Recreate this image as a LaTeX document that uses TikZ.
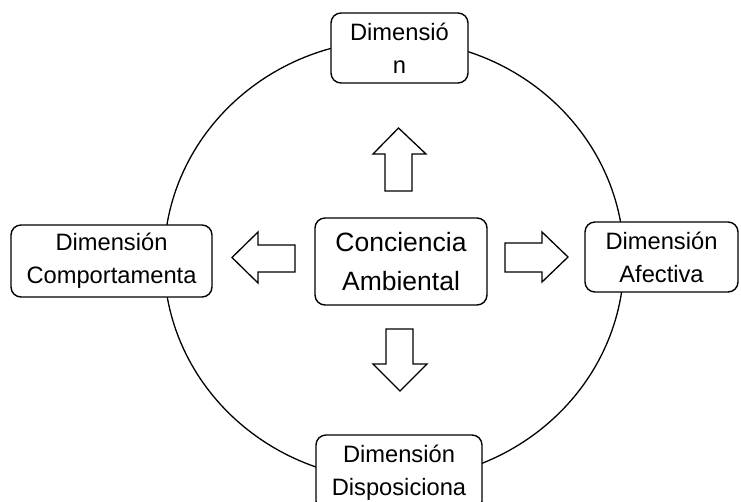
\documentclass[tikz,border=0pt]{standalone}
\usepackage{fontspec}
\setmainfont{Liberation Sans}
\begin{document}
\begin{tikzpicture}[x=1pt,y=-1pt,
  dimbox/.style={draw, line width=1.4pt, rounded corners=10pt, fill=white, align=center, inner sep=0pt,
    font=\fontsize{23.7}{33}\selectfont},
  blockarrow/.style={draw, line width=1.3pt, fill=white, line join=miter}]
\useasboundingbox (0,0) rectangle (741,501);
\draw[line width=1.3pt] (394,260) ellipse [x radius=230, y radius=220];
\node[dimbox, minimum width=172pt, minimum height=87pt, font=\fontsize{26.5}{39}\selectfont] (c) at (401,261.5) {Conciencia\\Ambiental};
\node[dimbox, minimum width=137pt, minimum height=70pt] (t) at (399.5,48) {Dimensió\\n};
\node[dimbox, minimum width=201pt, minimum height=72pt] (l) at (111.5,261) {Dimensión\\Comportamenta};
\node[dimbox, minimum width=153pt, minimum height=70pt] (r) at (661.5,257) {Dimensión\\Afectiva};
\node[dimbox, minimum width=166pt, minimum height=76pt] (b) at (399,473) {Dimensión\\Disposiciona};
% block arrows
\draw[blockarrow] (505,243) -- (542,243) -- (542,232) -- (568,257) -- (542,282) -- (542,272) -- (505,272) -- cycle;
\draw[blockarrow] (295,245) -- (258,245) -- (258,232) -- (232,257.5) -- (258,283) -- (258,272) -- (295,272) -- cycle;
\draw[blockarrow] (385,191) -- (385,154) -- (373,154) -- (398.5,128) -- (426,154) -- (412,154) -- (412,191) -- cycle;
\draw[blockarrow] (386,329) -- (386,364) -- (373,364) -- (400,391) -- (427,364) -- (413,364) -- (413,329) -- cycle;
\end{tikzpicture}
\end{document}
